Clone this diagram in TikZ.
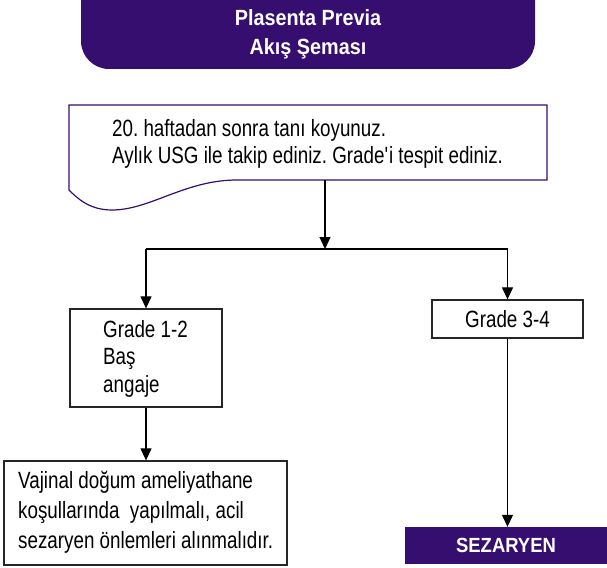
\documentclass[tikz,border=0pt]{standalone}
\usepackage{fontspec}
\setmainfont{Liberation Sans}[FakeStretch=0.8]
\newfontfamily\titlefont{Liberation Sans}[FakeStretch=0.9]
\usetikzlibrary{arrows.meta}
\frenchspacing

\definecolor{pvpurple}{RGB}{53,14,111}
\newcommand{\cppurple}{pvpurple}
\newcommand{\cpframe}{black!85}
\newcommand{\bodyfont}[1]{\fontsize{23.5}{#1}\selectfont}

\begin{document}
\begin{tikzpicture}[x=1pt, y=-1pt,
  every node/.style={inner sep=0pt},
  gradebox/.style={draw=\cpframe, line width=1.3pt},
  boxtext/.style={anchor=north west, align=left},
  purplebox/.style={fill=\cppurple, text=white},
  flow/.style={line width=1.2pt, -{Triangle[width=11pt,length=12pt]}}]

  \useasboundingbox (0,0) rectangle (607,567);

  % title tab
  \fill[\cppurple, rounded corners=28pt] (81,-40) rectangle (535,69);
  \node[text=white, align=center, font=\titlefont\bfseries\fontsize{22}{29}\selectfont]
    (title) at (308,34.7) {Plasenta Previa\\Akış Şeması};

  % document shape
  \draw[\cppurple, line width=1.2pt] (69,105) -- (547,105) -- (547,180) -- (237,180)
    .. controls (185,180) and (150,210) .. (112,210)
    .. controls (90,210) and (78,199) .. (69,190) -- cycle;
  \node[boxtext, font=\bodyfont{26.7}] (diag) at (112,119.5)
    {20. haftadan sonra tanı koyunuz.\\Aylık USG ile takip ediniz. Grade\textquotesingle i tespit ediniz.};
  \coordinate (docfoot) at (325,180);
  \coordinate (split) at (325,249);

  % boxes
  \node[gradebox, minimum width=152pt, minimum height=98pt] (g12) at (146,358) {};
  \node[boxtext, font=\bodyfont{27.5}] (g12text) at (103,319.8) {Grade 1-2\\Baş\\angaje};
  \node[gradebox, minimum width=151pt, minimum height=38pt, font=\bodyfont{27.5}]
    (g34) at (507.5,319) {Grade 3-4};
  \node[gradebox, minimum width=283pt, minimum height=104pt] (vaj) at (145.5,513) {};
  \node[boxtext, font=\bodyfont{30}] (vajtext) at (18,470.8)
    {Vajinal doğum ameliyathane\\koşullarında~ yapılmalı, acil\\sezaryen önlemleri alınmalıdır.};
  \node[purplebox, minimum width=202pt, minimum height=37pt,
    font=\titlefont\bfseries\fontsize{20.5}{24}\selectfont] (sez) at (506,545.5) {SEZARYEN};

  \draw[flow] (docfoot) -- (split);
  \draw[line width=1.2pt] (g12.north |- split) -- (g34.north |- split);
  \draw[flow] (g12.north |- split) -- (g12.north);
  \draw[flow] (g34.north |- split) -- (g34.north);
  \draw[flow] (g12.south) -- (g12.south |- vaj.north);
  \draw[flow] (g34.south) -- (g34.south |- sez.north);

\end{tikzpicture}
\end{document}
